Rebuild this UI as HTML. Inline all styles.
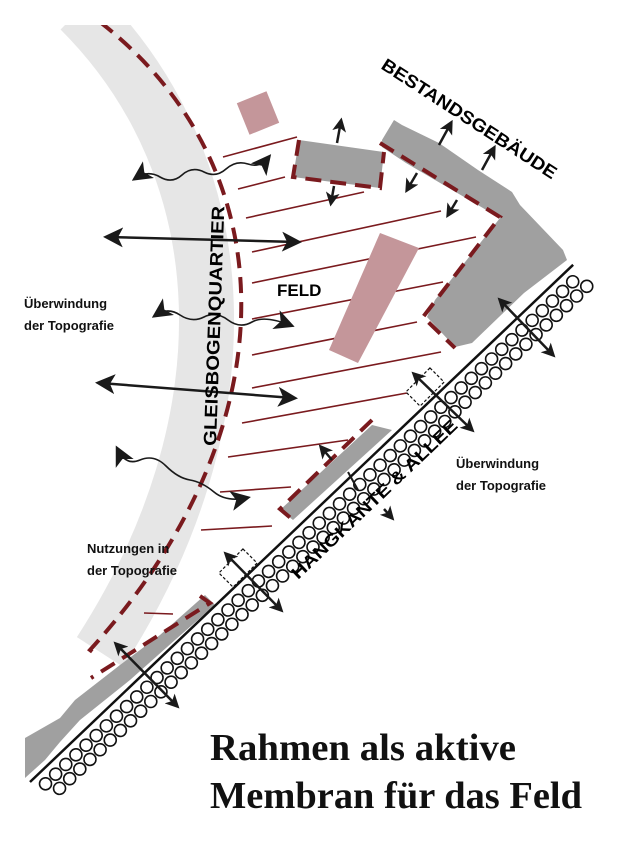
<!DOCTYPE html>
<html><head><meta charset="utf-8"><style>
html,body{margin:0;padding:0;background:#fff;}
svg{display:block;}
.s{font-family:"Liberation Sans",sans-serif;font-weight:bold;}
</style></head><body>
<svg width="630" height="852" viewBox="0 0 630 852" xmlns="http://www.w3.org/2000/svg">
<defs>
<marker id="a" viewBox="0 0 12 12" refX="9" refY="6" markerWidth="14" markerHeight="14" markerUnits="userSpaceOnUse" orient="auto-start-reverse"><path d="M0,0 L12,6 L0,12 L3,6 z" fill="#1a1a1a"/></marker>
<marker id="b" viewBox="0 0 12 12" refX="9" refY="6" markerWidth="20" markerHeight="20" markerUnits="userSpaceOnUse" orient="auto-start-reverse"><path d="M0,0 L12,6 L0,12 L3,6 z" fill="#1a1a1a"/></marker>
<clipPath id="c"><rect x="0" y="25" width="630" height="827"/></clipPath>
</defs>
<g clip-path="url(#c)">
<path d="M 80 10 C 240 170, 250 420, 100 652" stroke="#e6e6e6" stroke-width="55" fill="none"/>
<path d="M 100 22 C 290 170, 290 430, 90 650 L 98 656" stroke="#7a1a1e" stroke-width="4" fill="none" stroke-dasharray="16,9"/>
</g>
<g stroke="#7a1a1e" stroke-width="1.6">
<line x1="223" y1="157" x2="297" y2="137"/><line x1="238" y1="189" x2="285" y2="177"/>
<line x1="246" y1="218" x2="364" y2="192"/><line x1="252" y1="252" x2="441" y2="211"/>
<line x1="252" y1="283" x2="476" y2="237"/><line x1="252" y1="319" x2="443" y2="282"/>
<line x1="252" y1="355" x2="417" y2="322"/><line x1="252" y1="388" x2="441" y2="352"/>
<line x1="242" y1="423" x2="407" y2="393"/><line x1="228" y1="457" x2="348" y2="440"/>
<line x1="220" y1="492" x2="291" y2="487"/><line x1="201" y1="530" x2="272" y2="526"/>
<line x1="144" y1="613" x2="173" y2="614"/>
</g>
<rect x="-16" y="-17" width="32" height="34" fill="#c4969a" transform="translate(258,113) rotate(-22)"/>
<polygon points="380,233 419,248 358,363 329,350" fill="#c4969a"/>
<polygon points="299,140 384,152 380,188 293,177" fill="#a0a0a0"/>
<polygon points="382,140 394,120 402,125 439,143 478,170 512,192 520,205 563,250 567,260 524,293 472,343 455,347 427,317 435,300 500,218 406,163 382,147" fill="#a0a0a0"/>
<polygon points="280,510 372,425 392,430 293,520" fill="#a0a0a0"/>
<polygon points="205,595 215,605 175,640 130,680 80,720 60,742 45,760 25,778 25,738 60,718 75,700 120,665 160,635" fill="#a0a0a0"/>
<g stroke="#7a1a1e" stroke-width="4" fill="none" stroke-dasharray="16,9">
<path d="M 299 140 L 293 177 L 380 188 L 384 152"/>
<path d="M 380 143 L 500 217 L 423 317 L 455 348"/>
<path d="M 372 420 L 280 509 L 293 520"/>
<path d="M 200 596 L 210 603 L 91 678"/>
</g>
<g transform="translate(30,782) rotate(-43.6)">
<line x1="0" y1="0" x2="750" y2="0" stroke="#111" stroke-width="2.5"/>
<g fill="#fff" stroke="#111" stroke-width="1.6">
<circle cx="10" cy="12" r="6"/><circle cx="24" cy="12" r="6"/><circle cx="38" cy="12" r="6"/><circle cx="52" cy="12" r="6"/><circle cx="66" cy="12" r="6"/><circle cx="80" cy="12" r="6"/><circle cx="94" cy="12" r="6"/><circle cx="108" cy="12" r="6"/><circle cx="122" cy="12" r="6"/><circle cx="136" cy="12" r="6"/><circle cx="150" cy="12" r="6"/><circle cx="164" cy="12" r="6"/><circle cx="178" cy="12" r="6"/><circle cx="192" cy="12" r="6"/><circle cx="206" cy="12" r="6"/><circle cx="220" cy="12" r="6"/><circle cx="234" cy="12" r="6"/><circle cx="248" cy="12" r="6"/><circle cx="262" cy="12" r="6"/><circle cx="276" cy="12" r="6"/><circle cx="290" cy="12" r="6"/><circle cx="304" cy="12" r="6"/><circle cx="318" cy="12" r="6"/><circle cx="332" cy="12" r="6"/><circle cx="346" cy="12" r="6"/><circle cx="360" cy="12" r="6"/><circle cx="374" cy="12" r="6"/><circle cx="388" cy="12" r="6"/><circle cx="402" cy="12" r="6"/><circle cx="416" cy="12" r="6"/><circle cx="430" cy="12" r="6"/><circle cx="444" cy="12" r="6"/><circle cx="458" cy="12" r="6"/><circle cx="472" cy="12" r="6"/><circle cx="486" cy="12" r="6"/><circle cx="500" cy="12" r="6"/><circle cx="514" cy="12" r="6"/><circle cx="528" cy="12" r="6"/><circle cx="542" cy="12" r="6"/><circle cx="556" cy="12" r="6"/><circle cx="570" cy="12" r="6"/><circle cx="584" cy="12" r="6"/><circle cx="598" cy="12" r="6"/><circle cx="612" cy="12" r="6"/><circle cx="626" cy="12" r="6"/><circle cx="640" cy="12" r="6"/><circle cx="654" cy="12" r="6"/><circle cx="668" cy="12" r="6"/><circle cx="682" cy="12" r="6"/><circle cx="696" cy="12" r="6"/><circle cx="710" cy="12" r="6"/><circle cx="724" cy="12" r="6"/><circle cx="738" cy="12" r="6"/>
<circle cx="17" cy="25" r="6"/><circle cx="31" cy="25" r="6"/><circle cx="45" cy="25" r="6"/><circle cx="59" cy="25" r="6"/><circle cx="73" cy="25" r="6"/><circle cx="87" cy="25" r="6"/><circle cx="101" cy="25" r="6"/><circle cx="115" cy="25" r="6"/><circle cx="129" cy="25" r="6"/><circle cx="143" cy="25" r="6"/><circle cx="157" cy="25" r="6"/><circle cx="171" cy="25" r="6"/><circle cx="185" cy="25" r="6"/><circle cx="199" cy="25" r="6"/><circle cx="213" cy="25" r="6"/><circle cx="227" cy="25" r="6"/><circle cx="241" cy="25" r="6"/><circle cx="255" cy="25" r="6"/><circle cx="269" cy="25" r="6"/><circle cx="283" cy="25" r="6"/><circle cx="297" cy="25" r="6"/><circle cx="311" cy="25" r="6"/><circle cx="325" cy="25" r="6"/><circle cx="339" cy="25" r="6"/><circle cx="353" cy="25" r="6"/><circle cx="367" cy="25" r="6"/><circle cx="381" cy="25" r="6"/><circle cx="395" cy="25" r="6"/><circle cx="409" cy="25" r="6"/><circle cx="423" cy="25" r="6"/><circle cx="437" cy="25" r="6"/><circle cx="451" cy="25" r="6"/><circle cx="465" cy="25" r="6"/><circle cx="479" cy="25" r="6"/><circle cx="493" cy="25" r="6"/><circle cx="507" cy="25" r="6"/><circle cx="521" cy="25" r="6"/><circle cx="535" cy="25" r="6"/><circle cx="549" cy="25" r="6"/><circle cx="563" cy="25" r="6"/><circle cx="577" cy="25" r="6"/><circle cx="591" cy="25" r="6"/><circle cx="605" cy="25" r="6"/><circle cx="619" cy="25" r="6"/><circle cx="633" cy="25" r="6"/><circle cx="647" cy="25" r="6"/><circle cx="661" cy="25" r="6"/><circle cx="675" cy="25" r="6"/><circle cx="689" cy="25" r="6"/><circle cx="703" cy="25" r="6"/><circle cx="717" cy="25" r="6"/><circle cx="731" cy="25" r="6"/><circle cx="745" cy="25" r="6"/>
</g>
</g>
<g fill="#fff" stroke="#111" stroke-width="1.2" stroke-dasharray="3,2">
<rect x="-10" y="-17" width="20" height="34" transform="translate(425,387) rotate(45)"/>
<rect x="-10" y="-17" width="20" height="34" transform="translate(238,568) rotate(45)"/>
</g>
<g stroke="#1a1a1a" stroke-width="2.5" fill="none">
<line x1="108" y1="237" x2="297" y2="242" marker-start="url(#b)" marker-end="url(#b)"/>
<line x1="100" y1="383" x2="293" y2="398" marker-start="url(#b)" marker-end="url(#b)"/>
<line x1="500" y1="300" x2="553" y2="355" marker-start="url(#a)" marker-end="url(#a)"/>
<line x1="414" y1="374" x2="472" y2="430" marker-start="url(#a)" marker-end="url(#a)"/>
<line x1="226" y1="554" x2="281" y2="610" marker-start="url(#a)" marker-end="url(#a)"/>
<line x1="116" y1="644" x2="177" y2="706" marker-start="url(#a)" marker-end="url(#a)"/>
<line x1="337" y1="143" x2="341" y2="121" marker-end="url(#a)"/>
<line x1="334" y1="186" x2="331" y2="203" marker-end="url(#a)"/>
<line x1="439" y1="145" x2="451" y2="123" marker-end="url(#a)"/>
<line x1="482" y1="170" x2="494" y2="148" marker-end="url(#a)"/>
<line x1="417" y1="173" x2="407" y2="190" marker-end="url(#a)"/>
<line x1="457" y1="200" x2="448" y2="215" marker-end="url(#a)"/>
<line x1="332" y1="460" x2="321" y2="447" marker-end="url(#a)"/>
<line x1="348" y1="472" x2="358" y2="490" stroke-width="2"/>
<line x1="384" y1="509" x2="392" y2="518" marker-end="url(#a)"/>
</g>
<g stroke="#1a1a1a" stroke-width="1.6" fill="none">
<path d="M 136 178 Q 148 170 160 177 T 182 175 T 204 172 T 226 169 T 248 164 T 268 158" marker-start="url(#b)" marker-end="url(#b)"/>
<path d="M 156 315 Q 168 307 180 315 T 204 317 T 228 320 T 252 322 T 290 325" marker-start="url(#b)" marker-end="url(#b)"/>
<path d="M 118 450 Q 126 466 140 460 T 166 466 T 190 480 T 214 492 T 246 498" marker-start="url(#b)" marker-end="url(#b)"/>
</g>
<text class="s" font-size="18" transform="translate(380,68) rotate(33)" textLength="205" lengthAdjust="spacingAndGlyphs">BESTANDSGEBÄUDE</text>
<text class="s" font-size="18" transform="translate(216,446) rotate(-88)" textLength="240" lengthAdjust="spacingAndGlyphs">GLEISBOGENQUARTIER</text>
<text class="s" font-size="17" x="277" y="296">FELD</text>
<text class="s" font-size="17" transform="translate(298,580) rotate(-43.6)" textLength="222" lengthAdjust="spacingAndGlyphs">HANGKANTE &amp; ALLEE</text>
<g class="s" font-size="13" fill="#111">
<text x="24" y="308">Überwindung</text><text x="24" y="330">der Topografie</text>
<text x="456" y="468">Überwindung</text><text x="456" y="490">der Topografie</text>
<text x="87" y="553">Nutzungen in</text><text x="87" y="575">der Topografie</text>
</g>
<g font-family="Liberation Serif,serif" font-weight="bold" font-size="38" fill="#111">
<text x="210" y="760" textLength="306" lengthAdjust="spacingAndGlyphs">Rahmen als aktive</text>
<text x="210" y="808" textLength="372" lengthAdjust="spacingAndGlyphs">Membran für das Feld</text>
</g>
</svg>
</body></html>
